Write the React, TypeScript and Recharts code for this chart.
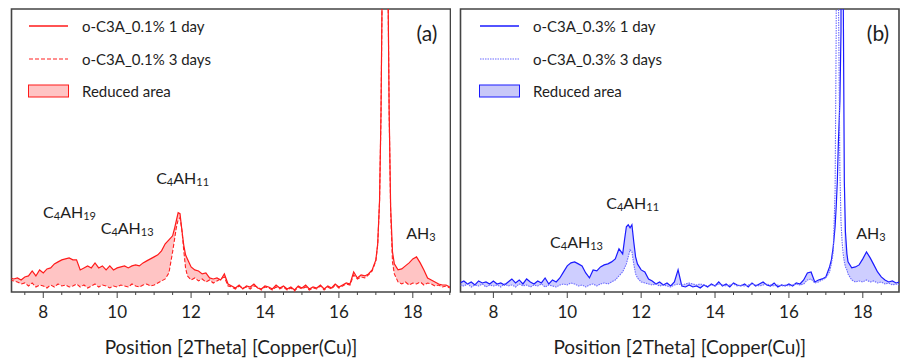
import { Area, ComposedChart, Label, Legend, Line, ReferenceArea, ReferenceDot, XAxis, YAxis } from 'recharts'

const FONT = 'Lato, "Open Sans", sans-serif'
const INK = '#1e1e1e'
const FRAME = '#444'

// 2-theta positions and intensities (a.u.), 0.1 % admixture
const xA = [
  7.1, 7.2, 7.3, 7.4, 7.5, 7.6, 7.7, 7.8, 7.9, 8.0,
  8.1, 8.2, 8.3, 8.4, 8.5, 8.6, 8.7, 8.8, 8.9, 9.0,
  9.1, 9.2, 9.3, 9.4, 9.5, 9.6, 9.7, 9.8, 9.9, 10.0,
  10.1, 10.2, 10.3, 10.4, 10.5, 10.6, 10.7, 10.8, 10.9, 11.0,
  11.1, 11.2, 11.3, 11.4, 11.5, 11.55, 11.6, 11.65, 11.7, 11.75,
  11.8, 11.85, 11.9, 12.0, 12.1, 12.2, 12.3, 12.4, 12.5, 12.6,
  12.7, 12.8, 12.9, 13.0, 13.1, 13.2, 13.3, 13.4, 13.5, 13.6,
  13.7, 13.8, 13.9, 14.0, 14.1, 14.2, 14.3, 14.4, 14.5, 14.6,
  14.7, 14.8, 14.9, 15.0, 15.1, 15.2, 15.3, 15.4, 15.5, 15.6,
  15.7, 15.8, 15.9, 16.0, 16.1, 16.2, 16.3, 16.4, 16.5, 16.6,
  16.7, 16.8, 16.9, 17.0, 17.05, 17.1, 17.14, 17.17, 17.25, 17.33,
  17.36, 17.4, 17.45, 17.5, 17.6, 17.7, 17.8, 17.9, 18.0, 18.1,
  18.2, 18.3, 18.4, 18.5, 18.6, 18.7, 18.8, 18.9, 19.0,
]
const oneDayA = [
  14, 13, 14, 12, 15, 16, 21, 16, 22, 19,
  23, 24, 28, 30, 32, 33, 34, 32, 32, 22,
  24, 26, 24, 29, 24, 26, 22, 26, 22, 24,
  25, 26, 24, 26, 27, 26, 29, 31, 33, 35,
  37, 41, 48, 52, 56, 63, 71, 79, 78, 62,
  47, 37, 33, 25, 22, 21, 18, 19, 14, 13,
  14, 12, 18, 8, 6, 4, 7, 3, 6, 5,
  8, 4, 3, 6, 5, 3, 7, 4, 6, 3,
  5, 2, 6, 4, 7, 3, 5, 4, 7, 3,
  6, 4, 8, 5, 7, 9, 8, 20, 14, 17,
  16, 18, 22, 32, 48, 91, 180, 300, 1600, 300,
  180, 85, 40, 28, 22, 23, 26, 29, 33, 35,
  29, 22, 14, 12, 10, 8, 7, 7, 5,
]
const threeDaysA = [
  12, 11, 10, 8, 9, 6, 9, 5, 7, 6,
  4, 7, 5, 8, 6, 7, 5, 6, 8, 5,
  7, 4, 6, 8, 5, 7, 6, 4, 6, 5,
  7, 6, 5, 8, 6, 5, 7, 8, 6, 7,
  9, 11, 13, 19, 40, 52, 64, 72, 74, 62,
  42, 24, 16, 12, 14, 11, 13, 10, 12, 9,
  11, 13, 15, 6, 5, 3, 6, 4, 5, 3,
  6, 5, 2, 5, 4, 2, 5, 3, 5, 2,
  4, 1, 5, 3, 5, 2, 4, 3, 6, 2,
  5, 3, 7, 4, 6, 8, 7, 17, 13, 15,
  14, 17, 21, 31, 47, 90, 178, 298, 1600, 300,
  178, 80, 30, 18, 10, 8, 10, 7, 9, 8,
  10, 7, 9, 8, 6, 7, 5, 6, 4,
]

// 2-theta positions and intensities (a.u.), 0.3 % admixture
const xB = [
  7.1, 7.2, 7.3, 7.4, 7.5, 7.6, 7.7, 7.8, 7.9, 8.0,
  8.1, 8.2, 8.3, 8.4, 8.5, 8.6, 8.7, 8.8, 8.9, 9.0,
  9.1, 9.2, 9.3, 9.4, 9.5, 9.6, 9.7, 9.8, 9.9, 10.0,
  10.1, 10.2, 10.3, 10.4, 10.5, 10.6, 10.7, 10.8, 10.9, 11.0,
  11.1, 11.2, 11.3, 11.4, 11.5, 11.55, 11.6, 11.65, 11.7, 11.75,
  11.8, 11.85, 11.9, 12.0, 12.1, 12.2, 12.3, 12.4, 12.5, 12.6,
  12.7, 12.8, 12.9, 13.0, 13.1, 13.2, 13.3, 13.4, 13.5, 13.6,
  13.7, 13.8, 13.9, 14.0, 14.1, 14.2, 14.3, 14.4, 14.5, 14.6,
  14.7, 14.8, 14.9, 15.0, 15.1, 15.2, 15.3, 15.4, 15.5, 15.6,
  15.7, 15.8, 15.9, 16.0, 16.1, 16.2, 16.3, 16.4, 16.5, 16.6,
  16.7, 16.8, 16.9, 17.0, 17.1, 17.15, 17.2, 17.25, 17.28, 17.31,
  17.34, 17.38, 17.41, 17.44, 17.47, 17.5, 17.53, 17.57, 17.6, 17.7,
  17.8, 17.9, 18.0, 18.1, 18.2, 18.3, 18.4, 18.5, 18.6, 18.7,
  18.8, 18.9, 19.0,
]
const oneDayB = [
  9, 11, 8, 10, 7, 11, 9, 10, 8, 11,
  8, 9, 7, 10, 13, 9, 12, 8, 13, 10,
  8, 11, 9, 14, 8, 12, 10, 14, 20, 26,
  29, 30, 28, 26, 19, 14, 22, 21, 25, 27,
  28, 30, 33, 43, 38, 52, 65, 67, 64, 67,
  50, 35, 28, 22, 20, 13, 11, 8, 10, 7,
  9, 6, 10, 22, 6, 5, 7, 5, 6, 4,
  7, 5, 8, 6, 10, 6, 8, 5, 9, 7,
  6, 8, 5, 9, 6, 8, 10, 7, 6, 9,
  5, 7, 6, 8, 6, 9, 8, 12, 19, 20,
  10, 12, 13, 15, 25, 32, 45, 65, 85, 110,
  150, 190, 260, 1600, 300, 110, 60, 38, 30, 24,
  25, 27, 33, 40, 34, 27, 20, 15, 12, 10,
  11, 9, 10,
]
const threeDaysB = [
  7, 6, 8, 5, 7, 6, 8, 5, 7, 6,
  7, 5, 8, 6, 7, 5, 8, 6, 7, 5,
  7, 6, 8, 5, 7, 6, 5, 7, 8, 7,
  9, 8, 6, 7, 5, 7, 8, 6, 8, 9,
  8, 10, 12, 16, 20, 24, 28, 35, 42, 40,
  28, 18, 14, 10, 9, 8, 7, 8, 6, 7,
  6, 5, 7, 8, 7, 8, 9, 8, 7, 8,
  7, 6, 7, 6, 8, 7, 6, 7, 8, 6,
  7, 6, 7, 8, 7, 6, 7, 8, 7, 6,
  7, 6, 7, 6, 7, 8, 7, 8, 12, 13,
  9, 10, 12, 14, 20, 28, 40, 100, 260, 1500,
  300, 120, 70, 50, 38, 30, 25, 22, 18, 12,
  10, 11, 10, 12, 10, 11, 9, 10, 8, 9,
  7, 8, 7,
]

const tickValues = [7.5, 8, 8.5, 9, 9.5, 10, 10.5, 11, 11.5, 12, 12.5, 13, 13.5, 14, 14.5, 15, 15.5, 16, 16.5, 17, 17.5, 18, 18.5, 19]
const labelledTicks = [8, 10, 12, 14, 16, 18]
const Y_MAX = 282
// the shaded difference is left open across the main reflection
const FILL_CAP = 120

type Part = [string, boolean]
type Phase = { x: number; y: number; parts: Part[] }

const phasesA: Phase[] = [
  { x: 8.71, y: 80, parts: [['C', false], ['4', true], ['AH', false], ['19', true]] },
  { x: 10.27, y: 64, parts: [['C', false], ['4', true], ['AH', false], ['13', true]] },
  { x: 11.77, y: 114, parts: [['C', false], ['4', true], ['AH', false], ['11', true]] },
  { x: 18.22, y: 59, parts: [['AH', false], ['3', true]] },
]
const phasesB: Phase[] = [
  { x: 10.25, y: 50, parts: [['C', false], ['4', true], ['AH', false], ['13', true]] },
  { x: 11.77, y: 89, parts: [['C', false], ['4', true], ['AH', false], ['11', true]] },
  { x: 18.22, y: 59, parts: [['AH', false], ['3', true]] },
]

type Row = { x: number; oneDay: number; threeDays: number }

const toRows = (xs: number[], d1: number[], d3: number[]): Row[] =>
  xs.map((x, i) => ({ x, oneDay: d1[i], threeDays: d3[i] }))

const reducedRange = (d: Row) =>
  d.oneDay > FILL_CAP || d.threeDays > FILL_CAP ? null : [d.threeDays, d.oneDay]

function AxisTick({ x, y, payload }: any) {
  const major = labelledTicks.includes(payload.value)
  return (
    <g>
      <line x1={x} x2={x} y1={y} y2={y + (major ? 6 : 3)} stroke={FRAME} strokeWidth={1} />
      {major && (
        <text x={x} y={y + 26} textAnchor="middle" fontSize={17} fontFamily={FONT} fill={INK}>
          {payload.value}
        </text>
      )}
    </g>
  )
}

function PhaseText({ viewBox, parts }: any) {
  const { x, y } = viewBox
  return (
    <text x={x} y={y + 6} textAnchor="middle" fontSize={16} fontFamily={FONT} fill={INK}>
      {parts.map(([t, sub]: Part, i: number) => {
        const prevSub = i > 0 && parts[i - 1][1]
        const dy = (sub ? 2 : 0) - (prevSub ? 2 : 0)
        return (
          <tspan key={i} fontSize={sub ? 11 : 16} dy={dy}>
            {t}
          </tspan>
        )
      })}
    </text>
  )
}

type PanelProps = {
  left: number
  tag: string
  rows: Row[]
  phases: Phase[]
  domain: [number, number]
  margin: { top: number; right: number; left: number; bottom: number }
  names: [string, string]
  stroke: string
  stroke3: string
  dash: string
  fill: string
  legendFill: string
}

function Panel(p: PanelProps) {
  const legendRows = [
    { label: p.names[0], kind: 'solid' },
    { label: p.names[1], kind: 'dash' },
    { label: 'Reduced area', kind: 'box' },
  ]
  return (
    <div style={{ position: 'absolute', left: p.left, top: 0, width: 451, height: 360 }}>
      <ComposedChart width={451} height={360} data={p.rows} margin={p.margin}>
        <XAxis
          dataKey="x"
          type="number"
          domain={p.domain}
          allowDataOverflow
          ticks={tickValues.filter((t) => t <= p.domain[1])}
          interval={0}
          tick={<AxisTick />}
          tickLine={false}
          tickSize={0}
          tickMargin={0}
          axisLine={false}
          height={68}
        >
          <Label
            value="Position [2Theta] [Copper(Cu)]"
            position="insideBottom"
            offset={6}
            style={{ fontSize: 19, fontFamily: FONT, fill: INK }}
          />
        </XAxis>
        <YAxis hide type="number" domain={[0, Y_MAX]} allowDataOverflow />
        <Area
          dataKey={reducedRange}
          type="linear"
          stroke="none"
          fill={p.fill}
          fillOpacity={1}
          isAnimationActive={false}
        />
        <Line dataKey="oneDay" type="linear" stroke={p.stroke} strokeWidth={1.2} dot={false} isAnimationActive={false} />
        <Line
          dataKey="threeDays"
          type="linear"
          stroke={p.stroke3}
          strokeWidth={1.1}
          strokeDasharray={p.dash}
          dot={false}
          isAnimationActive={false}
        />
        {p.phases.map((ph, i) => (
          <ReferenceDot
            key={i}
            x={ph.x}
            y={ph.y}
            r={0}
            stroke="none"
            fill="none"
            label={(props: any) => <PhaseText viewBox={props.viewBox} parts={ph.parts} />}
          />
        ))}
        <ReferenceArea
          x1={p.domain[0]}
          x2={p.domain[1]}
          y1={0}
          y2={Y_MAX}
          fill="none"
          stroke={FRAME}
          strokeWidth={1.6}
          ifOverflow="visible"
        />
        <Legend
          layout="vertical"
          align="center"
          verticalAlign="middle"
          wrapperStyle={{ top: 10, left: 28, width: 'auto' }}
          content={() => (
            <div style={{ fontFamily: FONT, fontSize: 15, color: INK }}>
              {legendRows.map((r) => (
                <div key={r.label} style={{ display: 'flex', alignItems: 'center', height: 32.5 }}>
                  <svg width={41} height={14} style={{ marginRight: 13 }}>
                    {r.kind === 'solid' && <line x1={1} x2={40} y1={7} y2={7} stroke={p.stroke} strokeWidth={1.3} />}
                    {r.kind === 'dash' && (
                      <line x1={1} x2={40} y1={7} y2={7} stroke={p.stroke3} strokeWidth={1.2} strokeDasharray={p.dash} />
                    )}
                    {r.kind === 'box' && (
                      <rect x={0.5} y={1} width={40} height={12} fill={p.legendFill} stroke={p.stroke} strokeWidth={1} />
                    )}
                  </svg>
                  <span style={{ whiteSpace: 'nowrap' }}>{r.label}</span>
                </div>
              ))}
            </div>
          )}
        />
      </ComposedChart>
      <div
        style={{
          position: 'absolute',
          left: 405,
          top: 21,
          width: 44,
          textAlign: 'center',
          lineHeight: '24px',
          fontSize: 21,
          fontFamily: FONT,
          color: INK,
        }}
      >
        {p.tag}
      </div>
    </div>
  )
}

export default function App() {
  return (
    <div style={{ position: 'absolute', left: 0, top: 0, width: 902, height: 360, background: '#fff' }}>
      <Panel
        left={0}
        tag="(a)"
        rows={toRows(xA, oneDayA, threeDaysA)}
        phases={phasesA}
        domain={[7.14, 19.02]}
        margin={{ top: 9, right: 0.5, left: 11.5, bottom: 0 }}
        names={['o-C3A_0.1% 1 day', 'o-C3A_0.1% 3 days']}
        stroke="#ff1a1a"
        stroke3="#ff2020"
        dash="4 2"
        fill="rgba(255, 60, 60, 0.3)"
        legendFill="#ffc4c4"
      />
      <Panel
        left={451}
        tag="(b)"
        rows={toRows(xB, oneDayB, threeDaysB)}
        phases={phasesB}
        domain={[7.11, 18.98]}
        margin={{ top: 9, right: 3, left: 9.5, bottom: 0 }}
        names={['o-C3A_0.3% 1 day', 'o-C3A_0.3% 3 days']}
        stroke="#1a1aff"
        stroke3="#6b6bff"
        dash="1.5 1"
        fill="rgba(60, 60, 255, 0.25)"
        legendFill="#c8c8f8"
      />
    </div>
  )
}
